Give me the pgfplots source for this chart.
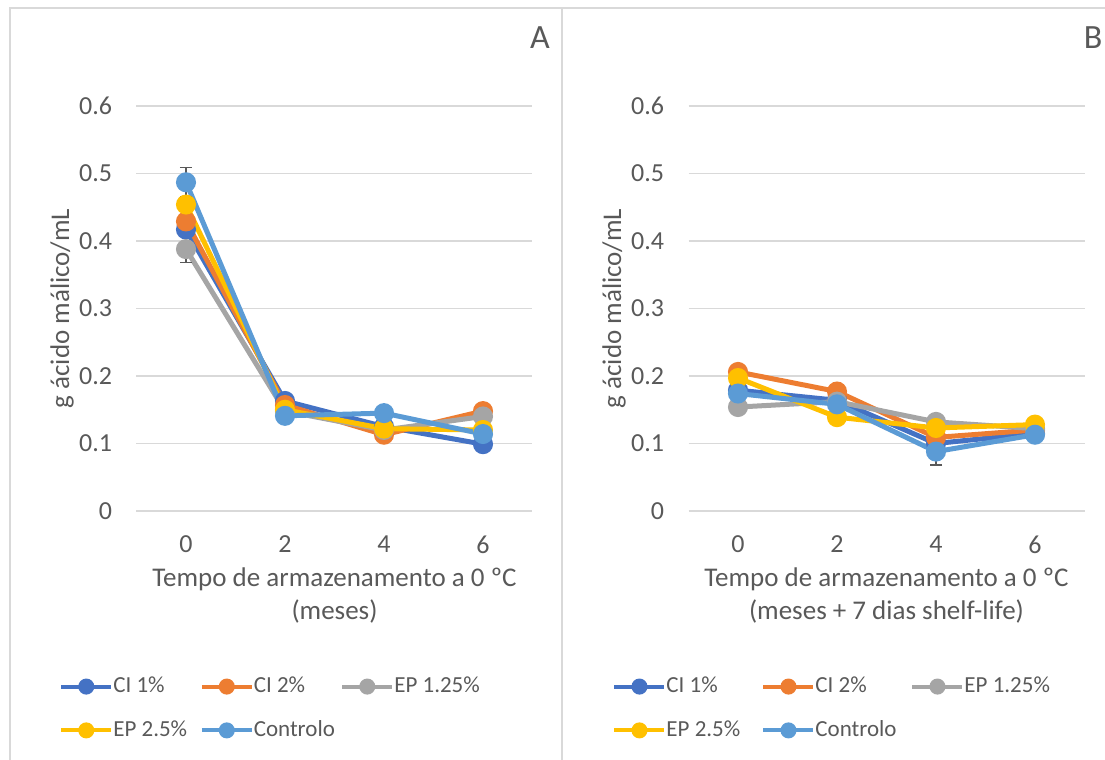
\documentclass[border=0pt]{standalone}
\usepackage{fontspec}
\setmainfont{Carlito}
\usepackage{pgfplots}
\pgfplotsset{compat=1.18}
\definecolor{cA}{HTML}{4472C4}
\definecolor{cB}{HTML}{ED7D31}
\definecolor{cC}{HTML}{A5A5A5}
\definecolor{cD}{HTML}{FFC000}
\definecolor{cE}{HTML}{5B9BD5}
\definecolor{txt}{HTML}{595959}
\definecolor{grd}{HTML}{D9D9D9}

\pgfplotsset{
  panel/.style={
    scale only axis, width=198pt, height=202.5pt,
    xmin=-1, xmax=7, ymin=0, ymax=0.6,
    xtick={0,2,4,6}, ytick={0,0.1,...,0.6},
    ymajorgrids, grid style={grd, line width=0.75pt},
    axis line style={draw=none}, major tick length=0pt,
    /pgf/number format/assume math mode=true,
    yticklabel style={/pgf/number format/fixed, /pgf/number format/precision=1,
      font=\fontsize{13}{15}\selectfont, text=txt, anchor=east, inner sep=0pt, xshift=-12pt},
    xticklabel style={font=\fontsize{13}{15}\selectfont, text=txt, anchor=north, inner sep=0pt, yshift=-12.3pt},
    xlabel style={font=\fontsize{13.5}{16.5}\selectfont, text=txt, align=center, inner sep=0pt,
      at={(axis description cs:0.5,0)}, anchor=north, yshift=-28pt},
    ylabel style={font=\fontsize{13.5}{16}\selectfont, text=txt, inner sep=0pt,
      at={(axis description cs:0,0.5)}, anchor=center, yshift=37.25pt},
    ylabel={g ácido málico/mL},
    every axis plot/.append style={line width=2.5pt, mark=*, mark size=3.75pt},
    error bars/y dir=both, error bars/y explicit,
    error bars/error bar style={line width=0.7pt, color=txt},
    error bars/error mark options={rotate=90, mark size=3pt, line width=0.7pt, color=txt},
    legend columns=3,
    legend image code/.code={
      \draw[line width=2pt, mark size=3pt, mark repeat=2, mark phase=2]
        plot coordinates {(0pt,0pt) (12.5pt,0pt) (25pt,0pt)};},
    legend style={draw=none, fill=none, anchor=north west, inner sep=0pt,
      font=\fontsize{11.5}{13}\selectfont, text=txt, row sep=11.5pt,
      nodes={inner sep=0.5pt},
      /tikz/every odd column/.style={column sep=0pt},
      /tikz/every even column/.style={column sep=0pt}},
  }
}

\begin{document}
\begin{tikzpicture}
\useasboundingbox (0,0) rectangle (552.5pt,380pt);
\draw[grd, line width=0.75pt] (5pt,0pt) -- (5pt,376pt) -- (552.5pt,376pt);
\draw[grd, line width=0.75pt] (281pt,0pt) -- (281pt,376pt);
\node[text=txt, font=\fontsize{17}{20}\selectfont, anchor=center] at (270pt,361pt) {A};
\node[text=txt, font=\fontsize{17}{20}\selectfont, anchor=center] at (546.5pt,361pt) {B};

\begin{axis}[panel, at={(68.25pt,124.5pt)}, anchor=south west,
  xlabel={Tempo de armazenamento a 0 ºC\\(meses)},
  legend style={at={(axis description cs:-0.196,-0.407)}}]
\addplot[color=cA] coordinates {(0,0.417) +- (0,0.010) (2,0.163) +- (0,0.005) (4,0.125) +- (0,0.005) (6,0.099) +- (0,0.008)};
\addlegendentry{\makebox[42.25pt][l]{\hspace{-0.5pt}CI 1\%}}
\addplot[color=cB] coordinates {(0,0.429) +- (0,0.010) (2,0.157) +- (0,0.005) (4,0.113) +- (0,0.010) (6,0.148) +- (0,0.010)};
\addlegendentry{\makebox[42.25pt][l]{\hspace{-0.5pt}CI 2\%}}
\addplot[color=cC] coordinates {(0,0.388) +- (0,0.020) (2,0.148) +- (0,0.005) (4,0.120) +- (0,0.005) (6,0.140) +- (0,0.008)};
\addlegendentry{\makebox[42.25pt][l]{\hspace{-0.5pt}EP 1.25\%}}
\addplot[color=cD] coordinates {(0,0.454) +- (0,0.010) (2,0.150) +- (0,0.005) (4,0.122) +- (0,0.005) (6,0.120) +- (0,0.005)};
\addlegendentry{\makebox[42.25pt][l]{\hspace{-0.5pt}EP 2.5\%}}
\addplot[color=cE] coordinates {(0,0.487) +- (0,0.022) (2,0.141) +- (0,0.005) (4,0.145) +- (0,0.010) (6,0.114) +- (0,0.005)};
\addlegendentry{\makebox[42.25pt][l]{\hspace{-0.5pt}Controlo}}
\end{axis}

\begin{axis}[panel, at={(344.25pt,124.5pt)}, anchor=south west,
  xlabel={Tempo de armazenamento a 0 ºC\\(meses + 7 dias shelf-life)},
  legend style={at={(axis description cs:-0.193,-0.407)}}]
\addplot[color=cA] coordinates {(0,0.179) +- (0,0.005) (2,0.164) +- (0,0.005) (4,0.100) +- (0,0.008) (6,0.115) +- (0,0.005)};
\addlegendentry{\makebox[46.5pt][l]{\hspace{-0.5pt}CI 1\%}}
\addplot[color=cB] coordinates {(0,0.206) +- (0,0.010) (2,0.177) +- (0,0.008) (4,0.109) +- (0,0.008) (6,0.120) +- (0,0.005)};
\addlegendentry{\makebox[46.5pt][l]{\hspace{-0.5pt}CI 2\%}}
\addplot[color=cC] coordinates {(0,0.154) +- (0,0.010) (2,0.162) +- (0,0.005) (4,0.132) +- (0,0.005) (6,0.122) +- (0,0.005)};
\addlegendentry{\makebox[46.5pt][l]{\hspace{-0.5pt}EP 1.25\%}}
\addplot[color=cD] coordinates {(0,0.197) +- (0,0.005) (2,0.139) +- (0,0.005) (4,0.123) +- (0,0.005) (6,0.128) +- (0,0.005)};
\addlegendentry{\makebox[46.5pt][l]{\hspace{-0.5pt}EP 2.5\%}}
\addplot[color=cE] coordinates {(0,0.174) +- (0,0.005) (2,0.158) +- (0,0.005) (4,0.088) +- (0,0.020) (6,0.113) +- (0,0.005)};
\addlegendentry{\makebox[46.5pt][l]{\hspace{-0.5pt}Controlo}}
\end{axis}
\end{tikzpicture}
\end{document}
